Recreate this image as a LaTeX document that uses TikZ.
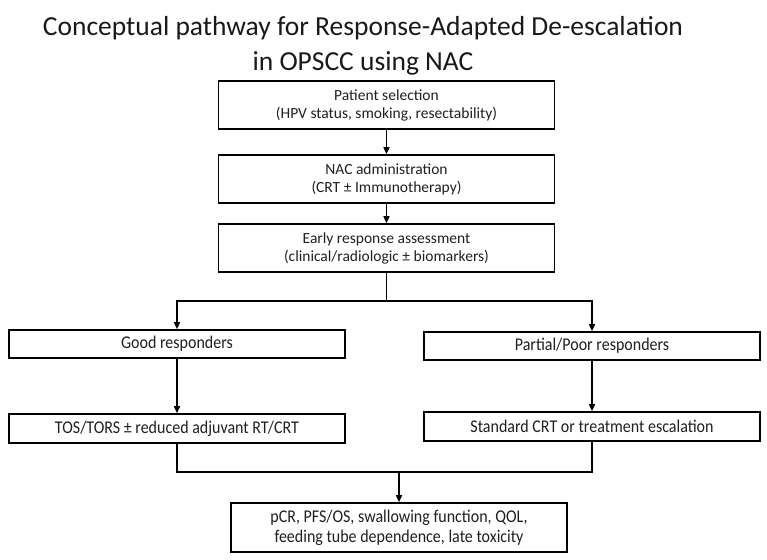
\documentclass[tikz,border=0pt]{standalone}
\usepackage{fontspec}
\usepackage{graphicx}
\setmainfont{Carlito}
\usetikzlibrary{arrows.meta}
\newcommand\vstretch[1]{\scalebox{1}[1.12]{#1}}
\begin{document}
\begin{tikzpicture}[x=1pt,y=-1pt,
  box/.style={draw=black,line width=1.6pt,minimum width=336pt,align=center,inner sep=0pt,text=black!88},
  topfont/.style={font=\fontsize{15.5}{18}\selectfont},
  lowfont/.style={font=\fontsize{16}{20}\selectfont},
  conn/.style={line width=1.5pt,draw=black},
  arr/.style={conn,-{Triangle[length=7pt,width=6pt]}}]
\useasboundingbox (0,0) rectangle (767,559);
\node[font=\fontsize{27.5}{35}\selectfont,align=center,text=black!90] (title) at (363,46)
  {Conceptual pathway for Response-Adapted De-escalation\\in OPSCC using NAC};
\node[box,topfont,minimum height=48pt] (b1) at (386.5,105) {Patient selection\\(HPV status, smoking, resectability)};
\node[box,topfont,minimum height=48pt] (b2) at (386.5,179) {NAC administration\\(CRT ± Immunotherapy)};
\node[box,topfont,minimum height=48pt] (b3) at (386.5,248) {Early response assessment\\(clinical/radiologic ± biomarkers)};
\node[box,lowfont,minimum height=28pt] (good) at (177,344) {\vstretch{Good responders}};
\node[box,lowfont,minimum height=28pt] (poor) at (592,346) {\vstretch{Partial/Poor responders}};
\node[box,lowfont,minimum height=29pt] (tos) at (177,428.5) {\vstretch{TOS/TORS ± reduced adjuvant RT/CRT}};
\node[box,lowfont,minimum height=29pt] (std) at (592,426.5) {\vstretch{Standard CRT or treatment escalation}};
\node[box,lowfont,minimum height=49pt] (out) at (399,527.5) {\vstretch{pCR, PFS/OS, swallowing function, QOL,}\\\vstretch{feeding tube dependence, late toxicity}};
\draw[arr] (b1) -- (b2);
\draw[arr] (b2) -- (b3);
\coordinate (split) at (386.5,301);
\coordinate (merge) at (399,472);
\draw[conn] (b3.south) -- (split);
\draw[arr] (split) -| (good.north);
\draw[arr] (split) -| (poor.north);
\draw[arr] (good) -- (tos);
\draw[arr] (poor) -- (std);
\draw[conn] (tos.south) |- (merge);
\draw[conn] (std.south) |- (merge);
\draw[arr] (merge) -- (out.north);
\end{tikzpicture}
\end{document}
